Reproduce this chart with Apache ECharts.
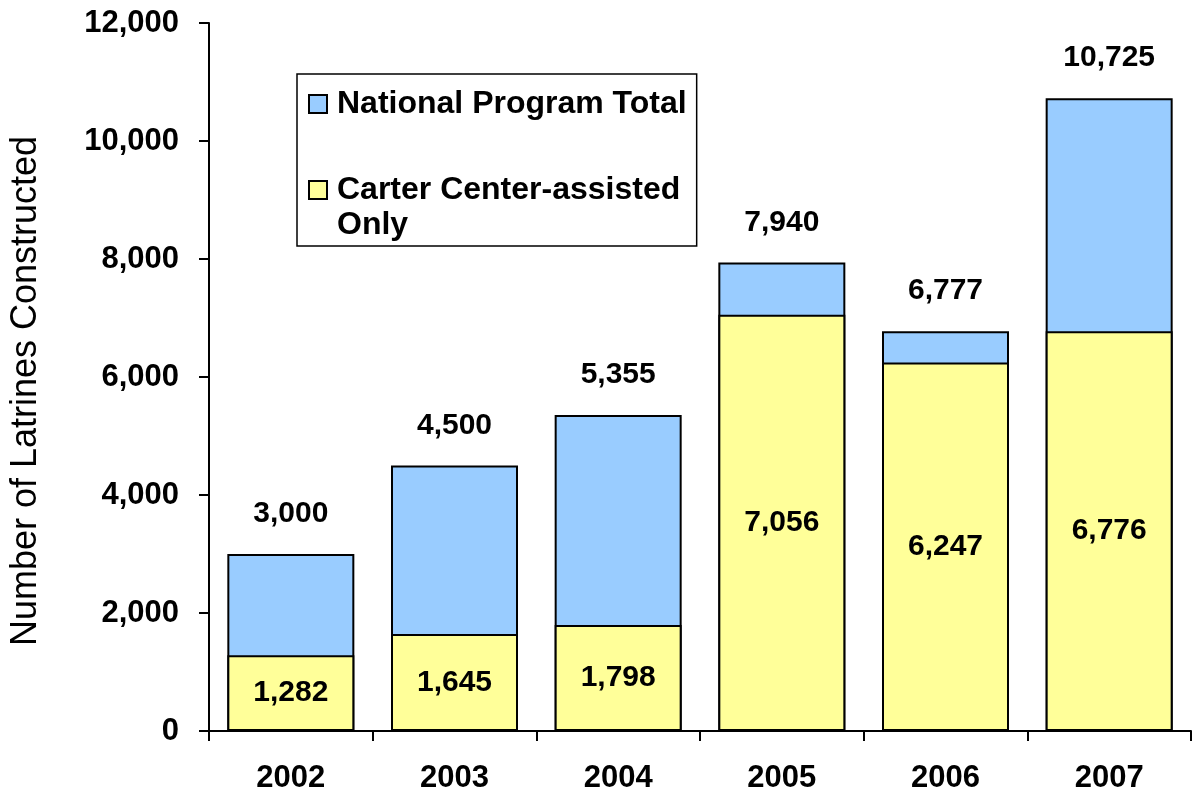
<!DOCTYPE html>
<html>
<head>
<meta charset="utf-8">
<script src="https://cdn.jsdelivr.net/npm/echarts@6/dist/echarts.min.js"></script>
<style>
  html, body { margin: 0; padding: 0; background: #ffffff; }
  #chart { width: 1198px; height: 796px; }
</style>
</head>
<body>
<div id="chart"></div>
<script>
// Latrines constructed per year
const years = ['2002', '2003', '2004', '2005', '2006', '2007'];
const nationalTotal = [3000, 4500, 5355, 7940, 6777, 10725];
const carterAssisted = [1282, 1645, 1798, 7056, 6247, 6776];
const yTicks = [0, 2000, 4000, 6000, 8000, 10000, 12000];

const NAME_TOTAL = 'National Program Total';
const NAME_CARTER = 'Carter Center-assisted\nOnly';

const FONT = '"Liberation Sans", Arial, Helvetica, sans-serif';
const fmt = v => Number(v).toLocaleString('en-US');

const chart = echarts.init(document.getElementById('chart'), null, { renderer: 'canvas' });

chart.setOption({
  backgroundColor: '#ffffff',
  animation: false,
  textStyle: { fontFamily: FONT },
  grid: { left: 207, right: 7, top: 23, bottom: 65, containLabel: false },
  legend: {
    orient: 'vertical',
    left: 297,
    top: 74,
    padding: [12.5, 10, 3.5, 11],
    itemGap: 16,
    itemWidth: 18,
    itemHeight: 18,
    icon: 'rect',
    borderColor: '#000000',
    borderWidth: 1.5,
    backgroundColor: '#ffffff',
    selectedMode: false,
    // a blank first line keeps the icon level with the first line of a two-line entry
    formatter: name => (name.indexOf('\n') >= 0 ? '\n' + name : name),
    textStyle: {
      fontFamily: FONT,
      fontWeight: 'bold',
      fontSize: 32,
      lineHeight: 35,
      color: '#000000',
      padding: [0, 0, 0, 5]
    },
    data: [NAME_TOTAL, NAME_CARTER]
  },
  xAxis: {
    type: 'category',
    data: years,
    boundaryGap: true,
    axisLine: { lineStyle: { color: '#000000', width: 2 } },
    axisTick: { show: true, alignWithLabel: false, length: 10, lineStyle: { color: '#000000', width: 2 } },
    axisLabel: {
      margin: 32,
      color: '#000000',
      fontFamily: FONT,
      fontWeight: 'bold',
      fontSize: 31
    },
    splitLine: { show: false }
  },
  yAxis: {
    type: 'value',
    min: yTicks[0],
    max: yTicks[yTicks.length - 1],
    interval: 2000,
    name: 'Number of Latrines Constructed',
    nameLocation: 'middle',
    nameGap: 165,
    nameTextStyle: { fontFamily: FONT, fontSize: 36, color: '#000000', padding: [0, 28, 0, 0] },
    axisLine: { show: true, lineStyle: { color: '#000000', width: 2 } },
    axisTick: { show: true, inside: false, length: 10, lineStyle: { color: '#000000', width: 2 } },
    axisLabel: {
      margin: 30,
      color: '#000000',
      fontFamily: FONT,
      fontWeight: 'bold',
      fontSize: 31,
      formatter: v => fmt(v)
    },
    splitLine: { show: false }
  },
  series: [
    {
      name: NAME_TOTAL,
      type: 'bar',
      data: nationalTotal,
      barWidth: 127,
      barGap: '-100%',
      itemStyle: { color: '#99CCFF', borderColor: '#000000', borderWidth: 2 },
      label: {
        show: true,
        position: 'top',
        distance: 25,
        color: '#000000',
        fontFamily: FONT,
        fontWeight: 'bold',
        fontSize: 30,
        formatter: p => fmt(p.value)
      }
    },
    {
      name: NAME_CARTER,
      type: 'bar',
      data: carterAssisted,
      barWidth: 127,
      barGap: '-100%',
      itemStyle: { color: '#FFFF99', borderColor: '#000000', borderWidth: 2 },
      label: {
        show: true,
        position: 'inside',
        color: '#000000',
        fontFamily: FONT,
        fontWeight: 'bold',
        fontSize: 30,
        formatter: p => fmt(p.value)
      }
    }
  ]
});
</script>
</body>
</html>
